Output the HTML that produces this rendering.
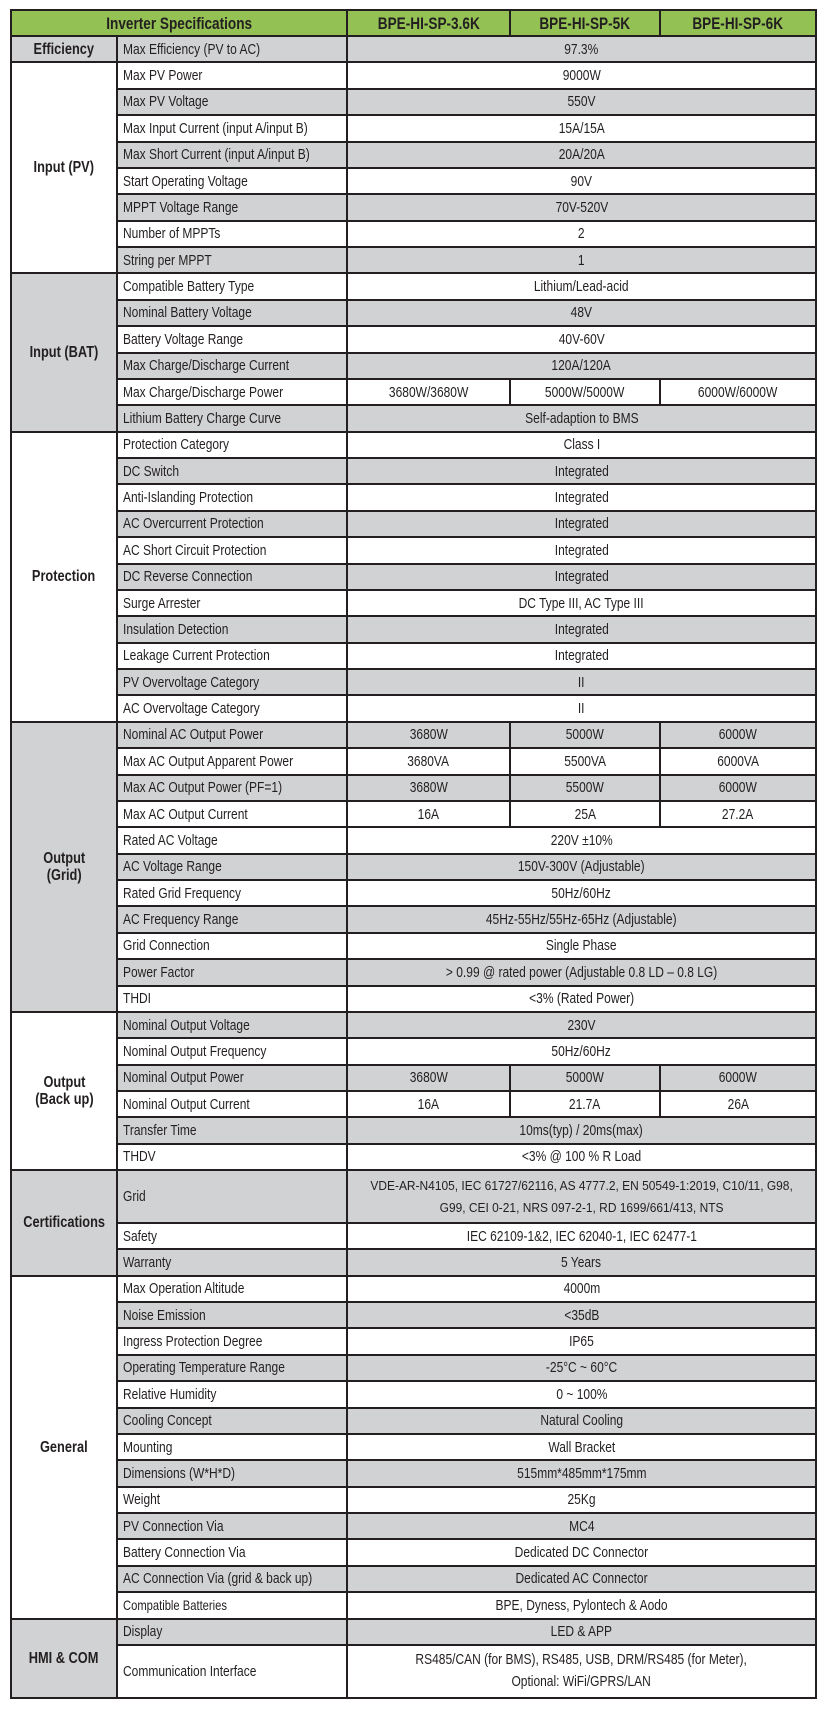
<!DOCTYPE html>
<html><head><meta charset="utf-8"><style>
html,body{margin:0;padding:0;background:#fff;width:826px;height:1714px;overflow:hidden}
table{position:absolute;left:10px;top:9px;width:805px;border-collapse:collapse;table-layout:fixed;font-family:"Liberation Sans Narrow","Liberation Sans",sans-serif;color:#231f20}
td{border:2px solid #231f20;padding:0;height:24.38px;font-size:15px;text-align:center;white-space:nowrap;overflow:visible;line-height:17px}
td.l{text-align:left;padding-left:5px}
td span{display:inline-block;transform:scaleX(.8)}
td.l span{transform-origin:left center}
td.s{font-weight:bold;font-size:16px}
tr.h td{background:#94c154;font-weight:bold;font-size:17px;height:24px}
.g td{background:#d1d2d3}
.w td{background:#fff}
td.sg{background:#d1d2d3!important}
td.sw{background:#fff!important}
td.cg{font-size:13px}
td.cg span{transform:scaleX(.92)}
</style></head><body>
<table>
<colgroup><col style="width:106px"><col style="width:230px"><col style="width:163px"><col style="width:150px"><col style="width:156px"></colgroup>
<tr class="h"><td colspan="2"><span>Inverter Specifications</span></td><td><span>BPE-HI-SP-3.6K</span></td><td><span>BPE-HI-SP-5K</span></td><td><span>BPE-HI-SP-6K</span></td></tr>
<tr class="g"><td class="s sg"><span>Efficiency</span></td><td class="l"><span>Max Efficiency (PV to AC)</span></td><td colspan="3"><span>97.3%</span></td></tr>
<tr class="w"><td class="s sw" rowspan="8"><span>Input (PV)</span></td><td class="l"><span>Max PV Power</span></td><td colspan="3"><span>9000W</span></td></tr>
<tr class="g"><td class="l"><span>Max PV Voltage</span></td><td colspan="3"><span>550V</span></td></tr>
<tr class="w"><td class="l"><span>Max Input Current (input A/input B)</span></td><td colspan="3"><span>15A/15A</span></td></tr>
<tr class="g"><td class="l"><span>Max Short Current (input A/input B)</span></td><td colspan="3"><span>20A/20A</span></td></tr>
<tr class="w"><td class="l"><span>Start Operating Voltage</span></td><td colspan="3"><span>90V</span></td></tr>
<tr class="g"><td class="l"><span>MPPT Voltage Range</span></td><td colspan="3"><span>70V-520V</span></td></tr>
<tr class="w"><td class="l"><span>Number of MPPTs</span></td><td colspan="3"><span>2</span></td></tr>
<tr class="g"><td class="l"><span>String per MPPT</span></td><td colspan="3"><span>1</span></td></tr>
<tr class="w"><td class="s sg" rowspan="6"><span>Input (BAT)</span></td><td class="l"><span>Compatible Battery Type</span></td><td colspan="3"><span>Lithium/Lead-acid</span></td></tr>
<tr class="g"><td class="l"><span>Nominal Battery Voltage</span></td><td colspan="3"><span>48V</span></td></tr>
<tr class="w"><td class="l"><span>Battery Voltage Range</span></td><td colspan="3"><span>40V-60V</span></td></tr>
<tr class="g"><td class="l"><span>Max Charge/Discharge Current</span></td><td colspan="3"><span>120A/120A</span></td></tr>
<tr class="w"><td class="l"><span>Max Charge/Discharge Power</span></td><td><span>3680W/3680W</span></td><td><span>5000W/5000W</span></td><td><span>6000W/6000W</span></td></tr>
<tr class="g"><td class="l"><span>Lithium Battery Charge Curve</span></td><td colspan="3"><span>Self-adaption to BMS</span></td></tr>
<tr class="w"><td class="s sw" rowspan="11"><span>Protection</span></td><td class="l"><span>Protection Category</span></td><td colspan="3"><span>Class I</span></td></tr>
<tr class="g"><td class="l"><span>DC Switch</span></td><td colspan="3"><span>Integrated</span></td></tr>
<tr class="w"><td class="l"><span>Anti-Islanding Protection</span></td><td colspan="3"><span>Integrated</span></td></tr>
<tr class="g"><td class="l"><span>AC Overcurrent Protection</span></td><td colspan="3"><span>Integrated</span></td></tr>
<tr class="w"><td class="l"><span>AC Short Circuit Protection</span></td><td colspan="3"><span>Integrated</span></td></tr>
<tr class="g"><td class="l"><span>DC Reverse Connection</span></td><td colspan="3"><span>Integrated</span></td></tr>
<tr class="w"><td class="l"><span>Surge Arrester</span></td><td colspan="3"><span>DC Type III, AC Type III</span></td></tr>
<tr class="g"><td class="l"><span>Insulation Detection</span></td><td colspan="3"><span>Integrated</span></td></tr>
<tr class="w"><td class="l"><span>Leakage Current Protection</span></td><td colspan="3"><span>Integrated</span></td></tr>
<tr class="g"><td class="l"><span>PV Overvoltage Category</span></td><td colspan="3"><span>II</span></td></tr>
<tr class="w"><td class="l"><span>AC Overvoltage Category</span></td><td colspan="3"><span>II</span></td></tr>
<tr class="g"><td class="s sg" rowspan="11"><span>Output<br>(Grid)</span></td><td class="l"><span>Nominal AC Output Power</span></td><td><span>3680W</span></td><td><span>5000W</span></td><td><span>6000W</span></td></tr>
<tr class="w"><td class="l"><span>Max AC Output Apparent Power</span></td><td><span>3680VA</span></td><td><span>5500VA</span></td><td><span>6000VA</span></td></tr>
<tr class="g"><td class="l"><span>Max AC Output Power (PF=1)</span></td><td><span>3680W</span></td><td><span>5500W</span></td><td><span>6000W</span></td></tr>
<tr class="w"><td class="l"><span>Max AC Output Current</span></td><td><span>16A</span></td><td><span>25A</span></td><td><span>27.2A</span></td></tr>
<tr class="w"><td class="l"><span>Rated AC Voltage</span></td><td colspan="3"><span>220V ±10%</span></td></tr>
<tr class="g"><td class="l"><span>AC Voltage Range</span></td><td colspan="3"><span>150V-300V (Adjustable)</span></td></tr>
<tr class="w"><td class="l"><span>Rated Grid Frequency</span></td><td colspan="3"><span>50Hz/60Hz</span></td></tr>
<tr class="g"><td class="l"><span>AC Frequency Range</span></td><td colspan="3"><span>45Hz-55Hz/55Hz-65Hz (Adjustable)</span></td></tr>
<tr class="w"><td class="l"><span>Grid Connection</span></td><td colspan="3"><span>Single Phase</span></td></tr>
<tr class="g"><td class="l"><span>Power Factor</span></td><td colspan="3"><span>&gt; 0.99 @ rated power (Adjustable 0.8 LD – 0.8 LG)</span></td></tr>
<tr class="w"><td class="l"><span>THDI</span></td><td colspan="3"><span>&lt;3% (Rated Power)</span></td></tr>
<tr class="g"><td class="s sw" rowspan="6"><span>Output<br>(Back up)</span></td><td class="l"><span>Nominal Output Voltage</span></td><td colspan="3"><span>230V</span></td></tr>
<tr class="w"><td class="l"><span>Nominal Output Frequency</span></td><td colspan="3"><span>50Hz/60Hz</span></td></tr>
<tr class="g"><td class="l"><span>Nominal Output Power</span></td><td><span>3680W</span></td><td><span>5000W</span></td><td><span>6000W</span></td></tr>
<tr class="w"><td class="l"><span>Nominal Output Current</span></td><td><span>16A</span></td><td><span>21.7A</span></td><td><span>26A</span></td></tr>
<tr class="g"><td class="l"><span>Transfer Time</span></td><td colspan="3"><span>10ms(typ) / 20ms(max)</span></td></tr>
<tr class="w"><td class="l"><span>THDV</span></td><td colspan="3"><span>&lt;3% @ 100 % R Load</span></td></tr>
<tr class="g"><td class="s sg" rowspan="3"><span>Certifications</span></td><td class="l" style="height:50.76px"><span>Grid</span></td><td colspan="3" class="cg" style="line-height:22px"><span>VDE-AR-N4105, IEC 61727/62116, AS 4777.2, EN 50549-1:2019, C10/11, G98,<br>G99, CEI 0-21, NRS 097-2-1, RD 1699/661/413, NTS</span></td></tr>
<tr class="w"><td class="l"><span>Safety</span></td><td colspan="3"><span>IEC 62109-1&amp;2, IEC 62040-1, IEC 62477-1</span></td></tr>
<tr class="g"><td class="l"><span>Warranty</span></td><td colspan="3"><span>5 Years</span></td></tr>
<tr class="w"><td class="s sw" rowspan="13"><span>General</span></td><td class="l"><span>Max Operation Altitude</span></td><td colspan="3"><span>4000m</span></td></tr>
<tr class="g"><td class="l"><span>Noise Emission</span></td><td colspan="3"><span>&lt;35dB</span></td></tr>
<tr class="w"><td class="l"><span>Ingress Protection Degree</span></td><td colspan="3"><span>IP65</span></td></tr>
<tr class="g"><td class="l"><span>Operating Temperature Range</span></td><td colspan="3"><span>-25°C ~ 60°C</span></td></tr>
<tr class="w"><td class="l"><span>Relative Humidity</span></td><td colspan="3"><span>0 ~ 100%</span></td></tr>
<tr class="g"><td class="l"><span>Cooling Concept</span></td><td colspan="3"><span>Natural Cooling</span></td></tr>
<tr class="w"><td class="l"><span>Mounting</span></td><td colspan="3"><span>Wall Bracket</span></td></tr>
<tr class="g"><td class="l"><span>Dimensions (W*H*D)</span></td><td colspan="3"><span>515mm*485mm*175mm</span></td></tr>
<tr class="w"><td class="l"><span>Weight</span></td><td colspan="3"><span>25Kg</span></td></tr>
<tr class="g"><td class="l"><span>PV Connection Via</span></td><td colspan="3"><span>MC4</span></td></tr>
<tr class="w"><td class="l"><span>Battery Connection Via</span></td><td colspan="3"><span>Dedicated DC Connector</span></td></tr>
<tr class="g"><td class="l"><span>AC Connection Via (grid &amp; back up)</span></td><td colspan="3"><span>Dedicated AC Connector</span></td></tr>
<tr class="w"><td class="l" style="font-size:14px"><span>Compatible Batteries</span></td><td colspan="3"><span>BPE, Dyness, Pylontech &amp; Aodo</span></td></tr>
<tr class="g"><td class="s sg" rowspan="2"><span>HMI &amp; COM</span></td><td class="l"><span>Display</span></td><td colspan="3"><span>LED &amp; APP</span></td></tr>
<tr class="w"><td class="l" style="height:50.76px"><span>Communication Interface</span></td><td colspan="3" style="line-height:22px"><span>RS485/CAN (for BMS), RS485, USB, DRM/RS485 (for Meter),<br>Optional: WiFi/GPRS/LAN</span></td></tr>
</table>
</body></html>
